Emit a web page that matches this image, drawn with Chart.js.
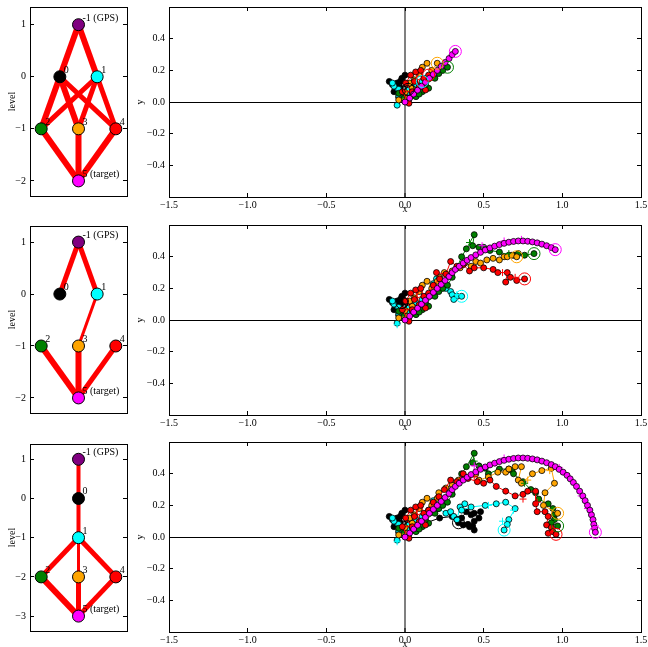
<!DOCTYPE html>
<html>
<head>
<meta charset="utf-8">
<script src="https://cdn.jsdelivr.net/npm/chart.js@4.4.1/dist/chart.umd.min.js"></script>
<style>
  body { margin: 0; background: #fff; overflow: hidden; }
  canvas { position: absolute; }
</style>
</head>
<body>
<canvas id="g1"></canvas><canvas id="g2"></canvas><canvas id="g3"></canvas>
<canvas id="t1"></canvas><canvas id="t2"></canvas><canvas id="t3"></canvas>
<script>
// ---- network graphs (left column) ----
const nodeLabels = ["-1 (GPS)", "0", "1", "2", "3", "4", "5 (target)"];
const nodeColors = ["#800080", "#000000", "#00ffff", "#008000", "#ffa500", "#ff0000", "#ff00ff"];

const nodeX1 = [0, -0.5, 0.5, -1, 0, 1, 0];
const nodeLevel1 = [1, 0, 0, -1, -1, -1, -2];
const edges1 = [[-1, 0], [-1, 1], [0, 2], [0, 3], [0, 4], [1, 2], [1, 3], [1, 4], [2, 5], [3, 5], [4, 5]];
const edgeWidth1 = [6, 6, 6, 6, 5, 5, 5, 5, 6, 6, 6];

const nodeX2 = [0, -0.5, 0.5, -1, 0, 1, 0];
const nodeLevel2 = [1, 0, 0, -1, -1, -1, -2];
const edges2 = [[-1, 0], [-1, 1], [1, 3], [2, 5], [3, 5], [4, 5]];
const edgeWidth2 = [5, 5, 3, 6, 6, 5];

const nodeX3 = [0, 0, 0, -1, 0, 1, 0];
const nodeLevel3 = [1, 0, -1, -2, -2, -2, -3];
const edges3 = [[-1, 0], [0, 1], [1, 2], [1, 3], [1, 4], [2, 5], [3, 5], [4, 5]];
const edgeWidth3 = [4, 4, 5, 3, 5, 6, 5, 5];

const levelTicks1 = [-2, -1, 0, 1];
const levelTicks3 = [-3, -2, -1, 0, 1];

// ---- trajectories (right column) ----
const xTicks = [-1.5, -1.0, -0.5, 0.0, 0.5, 1.0, 1.5];
const yTicks = [-0.4, -0.2, 0.0, 0.2, 0.4];

// target path (magenta); panel 1 shows the first 14 points, panel 2 the first 36
const target = [[0.00,0.00],[0.03,0.025],[0.055,0.05],[0.08,0.075],[0.105,0.10],[0.13,0.125],[0.155,0.15],
  [0.18,0.175],[0.205,0.20],[0.23,0.225],[0.255,0.25],[0.28,0.275],[0.30,0.30],[0.32,0.32],
  [0.345,0.34],[0.37,0.36],[0.395,0.378],[0.42,0.395],[0.45,0.412],[0.48,0.428],[0.51,0.443],[0.54,0.456],
  [0.57,0.467],[0.60,0.477],[0.63,0.485],[0.66,0.492],[0.69,0.497],[0.72,0.50],[0.75,0.50],[0.78,0.498],
  [0.81,0.494],[0.84,0.488],[0.87,0.48],[0.90,0.47],[0.93,0.458],[0.955,0.445],
  [0.98,0.428],[1.005,0.41],[1.03,0.39],[1.05,0.368],[1.07,0.345],[1.09,0.32],[1.11,0.29],[1.13,0.26],
  [1.145,0.23],[1.16,0.20],[1.175,0.17],[1.185,0.14],[1.195,0.11],[1.20,0.08],[1.205,0.055],[1.21,0.03]];
const targetLen = [14, 36, 52];

// early estimates, shared by all three runs
const earlyBlack = [[-0.04,0.03],[-0.07,0.065],[-0.06,0.10],[-0.10,0.13],[-0.05,0.12],[-0.02,0.15],[0.00,0.17],
  [-0.03,0.09],[0.035,0.11],[-0.01,0.06],[-0.05,0.08],[-0.08,0.11],[-0.03,0.13],[0.02,0.08]];
const earlyCyan = [[-0.05,-0.02],[-0.04,0.04],[-0.07,0.10],[-0.08,0.12],[-0.04,0.08],[0.025,0.076],[0.07,0.11],
  [0.01,0.05],[-0.02,0.02],[0.11,0.13]];
const earlyGreen = [[-0.006,0.023],[-0.04,0.055],[0.02,0.01],[0.07,0.034],[0.05,0.06],[0.11,0.065],[0.09,0.05],
  [0.15,0.087],[0.13,0.11],[0.19,0.15],[0.215,0.18],[0.24,0.20],[0.27,0.22]];
const earlyOrange = [[-0.04,0.013],[0.015,0.023],[0.0,0.06],[0.046,0.087],[0.03,0.12],[0.09,0.18],[0.06,0.14],
  [0.11,0.22],[0.14,0.245],[0.17,0.20],[0.205,0.245]];
const earlyRed = [[0.025,-0.008],[-0.017,0.065],[0.046,0.065],[0.004,0.12],[0.036,0.17],[0.068,0.19],[0.09,0.097],
  [0.13,0.076],[0.12,0.15],[0.10,0.20],[0.06,0.13],[0.15,0.17]];

// run 2 continuation
const black2 = [[0.05,0.09],[-0.02,0.11]];
const cyan2 = [[0.14,0.15],[0.18,0.23],[0.20,0.26],[0.23,0.21],[0.26,0.20],[0.29,0.18],[0.30,0.16],[0.33,0.15],
  [0.31,0.13],[0.36,0.15]];
const green2 = [[0.30,0.27],[0.33,0.33],[0.36,0.40],[0.39,0.45],[0.44,0.54],[0.43,0.47],[0.47,0.46],[0.50,0.46],
  [0.54,0.44],[0.60,0.43],[0.66,0.41],[0.69,0.41],[0.72,0.42],[0.76,0.41],[0.82,0.42]];
const orange2 = [[0.22,0.27],[0.25,0.30],[0.30,0.31],[0.35,0.33],[0.38,0.36],[0.42,0.34],[0.45,0.37],[0.48,0.36],
  [0.52,0.38],[0.56,0.39],[0.60,0.38],[0.63,0.40],[0.65,0.40],[0.68,0.41],[0.71,0.40]];
const red2 = [[0.18,0.22],[0.22,0.26],[0.20,0.30],[0.26,0.29],[0.29,0.37],[0.33,0.34],[0.37,0.35],[0.41,0.31],
  [0.44,0.33],[0.50,0.33],[0.56,0.32],[0.59,0.30],[0.65,0.30],[0.64,0.24],[0.67,0.27],[0.71,0.25],[0.76,0.26]];

// run 3 continuation
const black3 = [[0.08,0.07],[0.22,0.12],[0.30,0.13],[0.33,0.11],[0.36,0.12],[0.39,0.16],[0.42,0.14],[0.44,0.15],
  [0.48,0.16],[0.47,0.12],[0.44,0.10],[0.43,0.07],[0.41,0.065],[0.44,0.044],[0.40,0.08],[0.37,0.076],[0.34,0.09]];
const cyan3 = [[0.15,0.17],[0.18,0.23],[0.24,0.21],[0.21,0.18],[0.26,0.15],[0.29,0.16],[0.31,0.13],[0.33,0.11],
  [0.35,0.19],[0.38,0.21],[0.36,0.17],[0.42,0.19],[0.51,0.20],[0.58,0.21],[0.64,0.22],[0.70,0.18],[0.66,0.11],
  [0.65,0.08],[0.63,0.044]];
const green3 = [[0.30,0.27],[0.32,0.33],[0.36,0.40],[0.39,0.445],[0.44,0.53],[0.43,0.47],[0.47,0.45],[0.51,0.435],
  [0.53,0.40],[0.60,0.43],[0.66,0.43],[0.68,0.42],[0.69,0.40],[0.75,0.35],[0.80,0.30],[0.83,0.28],[0.85,0.24],
  [0.91,0.21],[0.94,0.18],[0.95,0.14],[0.95,0.11],[0.93,0.09],[0.97,0.07]];
const orange3 = [[0.215,0.28],[0.26,0.31],[0.30,0.33],[0.34,0.36],[0.38,0.38],[0.45,0.40],[0.47,0.36],[0.53,0.38],
  [0.59,0.41],[0.64,0.41],[0.66,0.43],[0.70,0.445],[0.74,0.445],[0.72,0.36],[0.74,0.34],[0.81,0.40],[0.87,0.42],
  [0.93,0.435],[0.95,0.34],[0.89,0.28],[0.88,0.20],[0.97,0.15]];
const red3 = [[0.18,0.22],[0.215,0.255],[0.25,0.30],[0.29,0.36],[0.33,0.35],[0.37,0.40],[0.40,0.37],[0.46,0.35],
  [0.50,0.34],[0.54,0.36],[0.58,0.32],[0.64,0.29],[0.70,0.26],[0.75,0.27],[0.78,0.29],[0.83,0.29],[0.83,0.21],
  [0.84,0.16],[0.89,0.16],[0.91,0.13],[0.90,0.076],[0.93,0.06],[0.91,0.023],[0.94,0.034],[0.96,0.017]];

// raw measurements ("+")
const plusMagenta2 = [[0.49,0.47],[0.63,0.50],[0.74,0.51]];
const plusGreen2 = [[0.41,0.49],[0.66,0.42]];
const plusRed2 = [[0.62,0.30],[0.70,0.27]];
const plusCyan2 = [[0.33,0.16],[-0.05,-0.03]];
const plusMagenta3 = [[0.44,0.45],[0.63,0.50],[0.98,0.44],[1.12,0.26],[1.16,0.18],[1.21,0.07]];
const plusGreen3 = [[0.44,0.48],[0.76,0.34]];
const plusRed3 = [[0.44,0.38],[0.75,0.24],[0.84,0.22]];
const plusOrange3 = [[0.78,0.36],[0.92,0.42]];
const plusCyan3 = [[0.53,0.20],[0.69,0.17],[0.62,0.10],[-0.05,-0.03]];

const FONT = "'Liberation Serif', 'DejaVu Serif', serif";
const tickFont = { family: FONT, size: 10 };
const C = { black: "#000000", cyan: "#00ffff", green: "#008000", orange: "#ffa500", red: "#ff0000", magenta: "#ff00ff" };

function pts(a) { return a.map(p => ({ x: p[0], y: p[1] })); }
function fmt1(v) { return (v < 0 ? "\u2212" : "") + Math.abs(v).toFixed(1); }
function fmt0(v) { return (v < 0 ? "\u2212" : "") + Math.abs(v); }

function place(id, left, top, w, h) {
  const c = document.getElementById(id);
  c.width = w; c.height = h;
  c.style.left = left + "px"; c.style.top = top + "px";
  c.style.width = w + "px"; c.style.height = h + "px";
  return c;
}

function axis(pos, min, max, vals, fmt, size, title, titlePad) {
  const horiz = pos === "bottom" || pos === "top";
  const o = {
    type: "linear", position: pos, min: min, max: max,
    afterBuildTicks: s => { s.ticks = vals.map(v => ({ value: v })); },
    afterFit: s => {
      if (horiz) s.height = size; else s.width = size;
      s.paddingTop = s.paddingBottom = s.paddingLeft = s.paddingRight = 0;
    },
    ticks: { display: !!fmt, font: tickFont, color: "#000", padding: horiz ? 6 : 8, maxRotation: 0, autoSkip: false },
    grid: { display: vals.length > 0, drawOnChartArea: false, tickLength: -4, tickWidth: 1, tickColor: "#000", color: "#000" },
    border: { display: true, color: "#000", width: 1 },
    title: { display: !!title, text: title || "", color: "#000", font: { family: FONT, size: 10 }, padding: titlePad || 0 }
  };
  if (fmt) o.ticks.callback = v => fmt(v);
  return o;
}

const nodeLabelPlugin = {
  id: "nodeLabels",
  afterDatasetsDraw(chart) {
    const ctx = chart.ctx;
    chart.data.datasets.forEach((ds, i) => {
      if (!ds.nodeText) return;
      ctx.save();
      ctx.font = "10px " + FONT;
      ctx.fillStyle = "#000";
      ctx.textAlign = "left";
      ctx.textBaseline = "alphabetic";
      chart.getDatasetMeta(i).data.forEach((p, j) => ctx.fillText(ds.nodeText[j], p.x + 4, p.y - 4));
      ctx.restore();
    });
  }
};

function graph(id, top, bottom, yMin, yMax, nx, nl, edges, widths, ticks) {
  place(id, 0, top - 6, 134, bottom - top + 12);
  const datasets = edges.map((e, k) => ({
    data: [{ x: nx[e[0] + 1], y: nl[e[0] + 1] }, { x: nx[e[1] + 1], y: nl[e[1] + 1] }],
    showLine: true, borderColor: "#ff0000", borderWidth: widths[k], pointRadius: 0, order: 1
  }));
  datasets.push({
    data: nx.map((x, j) => ({ x: x, y: nl[j] })), nodeText: nodeLabels,
    pointRadius: 6, pointBackgroundColor: nodeColors, pointBorderColor: "#000", pointBorderWidth: 1, order: 0
  });
  new Chart(document.getElementById(id), {
    type: "scatter",
    data: { datasets: datasets },
    options: {
      responsive: false, animation: false, devicePixelRatio: 1, events: [],
      layout: { padding: { top: 6, bottom: 6, left: 0, right: 6 } },
      plugins: { legend: { display: false }, tooltip: { enabled: false } },
      scales: {
        x: axis("bottom", -1.3, 1.3, [], null, 0),
        x2: axis("top", -1.3, 1.3, [], null, 0),
        y: axis("left", yMin, yMax, ticks, fmt0, 30, "level", { top: 6, bottom: 0 }),
        y2: axis("right", yMin, yMax, ticks, null, 0)
      }
    },
    plugins: [nodeLabelPlugin]
  });
}

function track(color, arr, order) {
  return [{
    data: pts(arr), showLine: true, borderColor: color, borderWidth: 1,
    pointRadius: 3, pointBackgroundColor: color, pointBorderColor: "#000", pointBorderWidth: 0.8, order: order
  }, {
    data: pts([arr[arr.length - 1]]), showLine: false, pointRadius: 6,
    pointBackgroundColor: "rgba(0,0,0,0)", pointBorderColor: color, pointBorderWidth: 1, order: -1
  }];
}
function plus(color, arr) {
  return { data: pts(arr), showLine: false, pointStyle: "cross", pointRadius: 3.5, pointBorderColor: color, pointBorderWidth: 1, order: 0 };
}

function trajectories(id, top, sets, pluses) {
  place(id, 130, top - 7, 518, 7 + 190 + 18);
  const datasets = [];
  sets.forEach((s, k) => datasets.push(...track(C[s[0]], s[1], k)));
  pluses.forEach(p => datasets.push(plus(C[p[0]], p[1])));
  const x = axis("bottom", -1.5, 1.5, xTicks, fmt1, 18, "x", 0);
  x.grid.drawOnChartArea = true;
  x.grid.color = c => (c.tick && c.tick.value === 0 ? "#808080" : "rgba(0,0,0,0)");
  x.grid.lineWidth = c => (c.tick && c.tick.value === 0 ? 2 : 1);
  const y = axis("left", -0.601, 0.601, yTicks, fmt1, 39, "y", { top: 4, bottom: 0 });
  y.grid.drawOnChartArea = true;
  y.grid.color = c => (c.tick && c.tick.value === 0 ? "#000000" : "rgba(0,0,0,0)");
  new Chart(document.getElementById(id), {
    type: "scatter",
    data: { datasets: datasets },
    options: {
      responsive: false, animation: false, devicePixelRatio: 1, events: [],
      layout: { padding: { top: 7, bottom: 0, left: 0, right: 5 } },
      plugins: { legend: { display: false }, tooltip: { enabled: false } },
      scales: {
        x: x,
        x2: axis("top", -1.5, 1.5, xTicks, null, 0),
        y: y,
        y2: axis("right", -0.601, 0.601, yTicks, null, 0)
      }
    }
  });
}

graph("g1", 6, 197, -2.29, 1.34, nodeX1, nodeLevel1, edges1, edgeWidth1, levelTicks1);
graph("g2", 225, 414, -2.29, 1.31, nodeX2, nodeLevel2, edges2, edgeWidth2, levelTicks1);
graph("g3", 443, 632, -3.38, 1.39, nodeX3, nodeLevel3, edges3, edgeWidth3, levelTicks3);

trajectories("t1", 7, [
  ["magenta", target.slice(0, targetLen[0])], ["red", earlyRed], ["orange", earlyOrange],
  ["green", earlyGreen], ["cyan", earlyCyan], ["black", earlyBlack]
], []);
trajectories("t2", 225, [
  ["magenta", target.slice(0, targetLen[1])], ["red", earlyRed.concat(red2)], ["orange", earlyOrange.concat(orange2)],
  ["green", earlyGreen.concat(green2)], ["cyan", earlyCyan.concat(cyan2)], ["black", earlyBlack.concat(black2)]
], [["magenta", plusMagenta2], ["green", plusGreen2], ["red", plusRed2], ["cyan", plusCyan2]]);
trajectories("t3", 442, [
  ["magenta", target.slice(0, targetLen[2])], ["red", earlyRed.concat(red3)], ["orange", earlyOrange.concat(orange3)],
  ["green", earlyGreen.concat(green3)], ["cyan", earlyCyan.concat(cyan3)], ["black", earlyBlack.concat(black3)]
], [["magenta", plusMagenta3], ["green", plusGreen3], ["red", plusRed3], ["orange", plusOrange3], ["cyan", plusCyan3]]);
</script>
</body>
</html>
